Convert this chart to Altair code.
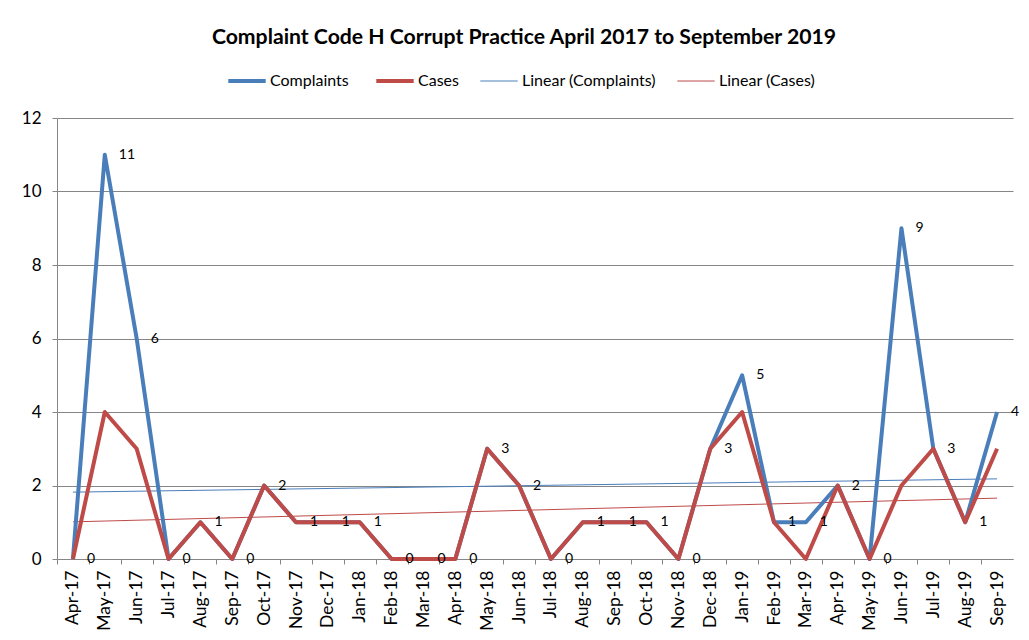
import altair as alt
import pandas as pd

months = ["Apr-17","May-17","Jun-17","Jul-17","Aug-17","Sep-17","Oct-17","Nov-17","Dec-17",
          "Jan-18","Feb-18","Mar-18","Apr-18","May-18","Jun-18","Jul-18","Aug-18","Sep-18",
          "Oct-18","Nov-18","Dec-18","Jan-19","Feb-19","Mar-19","Apr-19","May-19","Jun-19",
          "Jul-19","Aug-19","Sep-19"]
complaints = [0,11,6,0,1,0,2,1,1,1,0,0,0,3,2,0,1,1,1,0,3,5,1,1,2,0,9,3,1,4]
cases      = [0,4,3,0,1,0,2,1,1,1,0,0,0,3,2,0,1,1,1,0,3,4,1,0,2,0,2,3,1,3]

rows = []
for i, m in enumerate(months):
    rows.append({"idx": i, "month": m, "series": "Complaints", "value": complaints[i]})
    rows.append({"idx": i, "month": m, "series": "Cases", "value": cases[i]})
df = pd.DataFrame(rows)

FONT = "Lato"
BLUE = "#4a7ebb"
RED = "#be4b48"
domain = ["Complaints", "Cases", "Linear (Complaints)", "Linear (Cases)"]

W = 956
H = 441
HALF = W / 30 / 2

label_expr = "[" + ",".join("'%s'" % m for m in months) + "][datum.value]"

x_enc = alt.X("idx:Q",
              scale=alt.Scale(domain=[-0.5, 29.5], nice=False, zero=False),
              axis=alt.Axis(values=list(range(30)), labelExpr=label_expr, labelAngle=-90,
                            tickOffset=-HALF, labelOffset=HALF, grid=False, title=None,
                            tickSize=5, labelPadding=6, labelFontSize=17.5, labelFont=FONT,
                            labelColor="#000000", domainColor="#868686", tickColor="#868686"))
y_enc = alt.Y("value:Q",
              scale=alt.Scale(domain=[0, 12], nice=False),
              axis=alt.Axis(values=[0,2,4,6,8,10,12], title=None, labelFontSize=17,
                            labelFont=FONT, labelColor="#000000", gridColor="#868686",
                            domainColor="#868686", tickColor="#868686", tickSize=5,
                            labelPadding=11))
color_enc = alt.Color("series:N",
                      scale=alt.Scale(domain=domain, range=[BLUE, RED, BLUE, RED]),
                      legend=alt.Legend(
                          title=None, orient="none", direction="horizontal",
                          legendX=182, legendY=-45, symbolType="stroke",
                          symbolSize=1400, labelFontSize=16, labelFont=FONT,
                          labelColor="#000000", columnPadding=19, labelOffset=15,
                          symbolStrokeWidth=alt.ExprRef(
                              expr="indexof(['Linear (Complaints)','Linear (Cases)'], datum.value) >= 0 ? 1 : 4")))

base = alt.Chart(df)

lines = base.mark_line(strokeWidth=4, strokeJoin="round").encode(
    x=x_enc, y=y_enc, color=color_enc, detail="series:N")

trend = base.transform_regression("idx", "value", groupby=["series"]).transform_calculate(
    series="'Linear (' + datum.series + ')'"
).mark_line(strokeWidth=1).encode(x=x_enc, y=y_enc, color=color_enc)

labels = base.transform_filter(alt.datum.series == "Complaints").mark_text(
    align="left", baseline="middle", dx=14, fontSize=14, font=FONT, color="#000000"
).encode(x=x_enc, y=y_enc, text="value:Q")

chart = alt.layer(trend, lines, labels).properties(
    width=W, height=H,
    title=alt.Title("Complaint Code H Corrupt Practice April 2017 to September 2019",
                    fontSize=21.2, font=FONT, fontWeight="bold", anchor="middle",
                    color="#000000", dx=-11, offset=25),
    autosize=alt.AutoSizeParams(type="none"),
    padding={"left": 49, "top": 110, "right": 8, "bottom": 72},
).configure_view(stroke=None)

chart.save("out.html", embed_options={"renderer": "svg", "actions": False})
